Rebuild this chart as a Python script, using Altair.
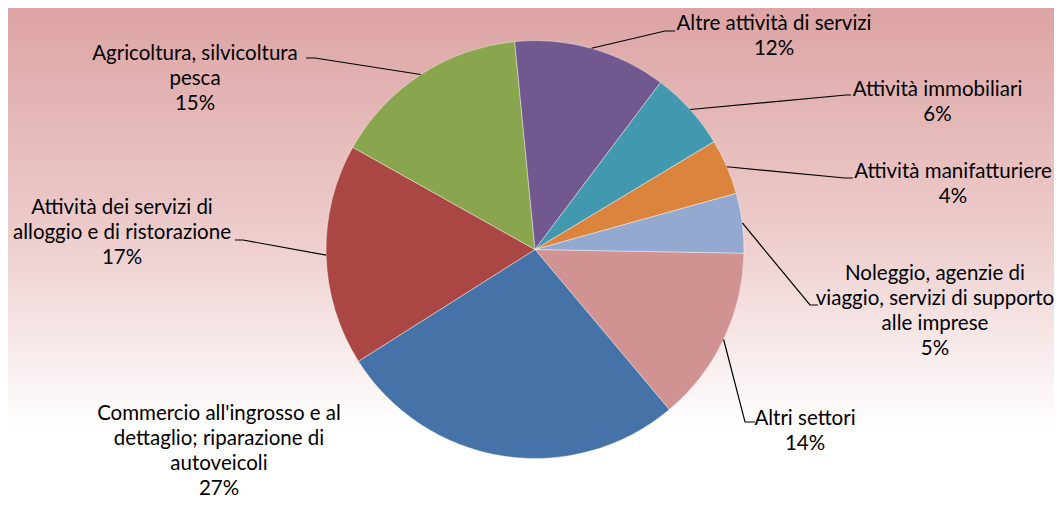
import math
import altair as alt
import pandas as pd

# ---------------- data ----------------
categories = [
    "Altri settori",
    "Commercio all'ingrosso e al dettaglio; riparazione di autoveicoli",
    "Attività dei servizi di alloggio e di ristorazione",
    "Agricoltura, silvicoltura pesca",
    "Altre attività di servizi",
    "Attività immobiliari",
    "Attività manifatturiere",
    "Noleggio, agenzie di viaggio, servizi di supporto alle imprese",
]
values = [13.6, 27.1, 17.1, 15.3, 11.8, 6.1, 4.3, 4.6]
label_text = [
    "Altri settori",
    "Commercio all'ingrosso e al\ndettaglio; riparazione di\nautoveicoli",
    "Attività dei servizi di\nalloggio e di ristorazione",
    "Agricoltura, silvicoltura\npesca",
    "Altre attività di servizi",
    "Attività immobiliari",
    "Attività manifatturiere",
    "Noleggio, agenzie di\nviaggio, servizi di supporto\nalle imprese",
]

# ---------------- styles ----------------
colors = ["#D19392", "#4572A7", "#AA4643", "#89A54E",
          "#71588F", "#4198AF", "#DB843D", "#93A9CF"]

# ---------------- layout (page pixel coordinates) ----------------
MARGIN = 8
W, H = 1046, 491
CX, CY, R = 535, 249.5, 209
START_DEG = 91.0

# centre of the first text line of each label
label_xy = [(805, 419), (219, 414), (122, 208), (195, 54),
            (774, 24), (937.5, 89.5), (953, 172), (935, 274)]
elbow_xy = [(745, 422), None, (243, 240), (315, 58),
            (665, 31), (846, 95), (845, 178), (810, 305)]
end_xy = [(755, 422), None, (235, 240), (306, 58),
          (675, 31), (851, 95), (853, 178), (818, 305)]

total = sum(values)
pcts = [f"{round(v / total * 100)}%" for v in values]

slices = pd.DataFrame({"cat": categories, "value": values,
                       "idx": list(range(len(values)))})

rows = []
cum = 0.0
for i, v in enumerate(values):
    mid = math.radians(START_DEG + (cum + v / 2) / total * 360)
    cum += v
    if elbow_xy[i] is None:
        continue
    sx = CX + R * math.sin(mid)
    sy = CY - R * math.cos(mid)
    for k, (px, py) in enumerate([(sx, sy), elbow_xy[i], end_xy[i]]):
        rows.append({"cat": categories[i], "k": k, "px": px, "py": py})
leaders = pd.DataFrame(rows)

labels = pd.DataFrame({
    "cat": categories,
    "txt": [t + "\n" + p for t, p in zip(label_text, pcts)],
    "lx": [p[0] for p in label_xy],
    "ly": [p[1] for p in label_xy],
})

xs = alt.Scale(domain=[MARGIN, MARGIN + W], zero=False, nice=False)
ys = alt.Scale(domain=[MARGIN, MARGIN + H], zero=False, nice=False, reverse=True)

bg = alt.Chart(pd.DataFrame({"a": [0]})).mark_rect(
    fill=alt.Gradient(
        gradient="linear",
        stops=[
            alt.GradientStop(offset=0, color="#DDA4A4"),
            alt.GradientStop(offset=0.45, color="#EDCBCB"),
            alt.GradientStop(offset=0.86, color="#FFFFFF"),
            alt.GradientStop(offset=1, color="#FFFFFF"),
        ],
        x1=0, x2=0, y1=0, y2=1,
    )
).encode(x=alt.value(0), x2=alt.value(W), y=alt.value(0), y2=alt.value(H))

start = math.radians(START_DEG)
pie = alt.Chart(slices).mark_arc(radius=R, stroke="#ffffff", strokeWidth=0.6,
                                 strokeOpacity=0.7).encode(
    theta=alt.Theta("value:Q", stack=True,
                    scale=alt.Scale(range=[start, start + 2 * math.pi])),
    color=alt.Color("cat:N", scale=alt.Scale(domain=categories, range=colors),
                    legend=None),
    order=alt.Order("idx:Q"),
    x=alt.value(CX - MARGIN),
    y=alt.value(CY - MARGIN),
)

lines = alt.Chart(leaders).mark_line(color="black", strokeWidth=1.2).encode(
    x=alt.X("px:Q", scale=xs, axis=None),
    y=alt.Y("py:Q", scale=ys, axis=None),
    detail="cat:N",
    order="k:Q",
)

text = alt.Chart(labels).mark_text(
    font="Lato", fontSize=20.5, lineBreak="\n", lineHeight=25,
    align="center", baseline="middle", color="#000000",
).encode(
    x=alt.X("lx:Q", scale=xs, axis=None),
    y=alt.Y("ly:Q", scale=ys, axis=None),
    text="txt:N",
)

chart = alt.layer(bg, pie, lines, text).properties(
    width=W, height=H,
    autosize=alt.AutoSizeParams(type="none"),
    padding=0,
    background="white",
).configure_view(stroke=None)

chart.save("out.html", embed_options={"renderer": "svg", "actions": False})
